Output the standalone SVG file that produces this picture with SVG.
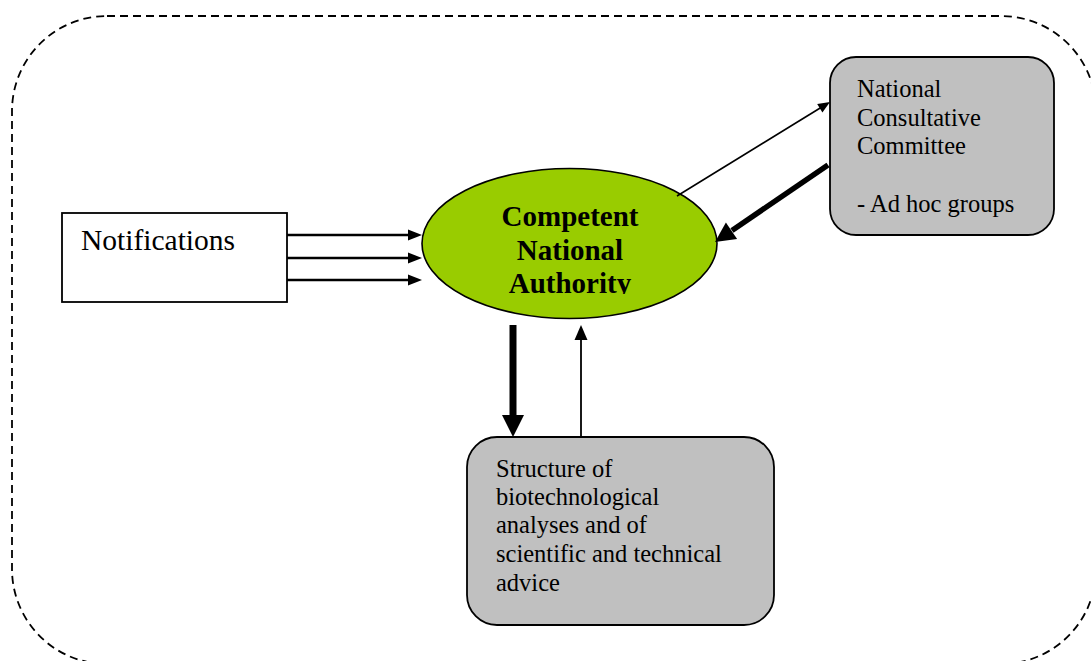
<svg xmlns="http://www.w3.org/2000/svg" width="1091" height="661" viewBox="0 0 1091 661">
<style>
.box{fill:#C0C0C0;stroke:#000;stroke-width:1.8}
.t{font-family:"Liberation Serif","Times New Roman",serif;font-size:24.5px;fill:#000}
.b{font-family:"Liberation Serif","Times New Roman",serif;font-size:29px;font-weight:bold;fill:#000;text-anchor:middle}
.ln{stroke:#000;fill:none}
.hd{fill:#000;stroke:none}
</style>
<defs>
<clipPath id="cl"><rect x="400" y="150" width="340" height="144"/></clipPath>
</defs>
<rect id="frame" x="12" y="16" width="1084" height="648" rx="95" ry="95" fill="none" stroke="#000" stroke-width="1.8" stroke-dasharray="8 5"/>
<g id="notifications">
<rect x="62" y="213" width="225" height="89" fill="#fff" stroke="#000" stroke-width="1.8"/>
<text class="t" x="81" y="250" style="font-size:29.5px">Notifications</text>
</g>
<g id="authority">
<ellipse cx="569.5" cy="243.5" rx="147.5" ry="75" fill="#99CC00" stroke="#000" stroke-width="1.6"/>
<g clip-path="url(#cl)">
<text class="b" x="570" y="226">Competent</text>
<text class="b" x="570" y="260">National</text>
<text class="b" x="570" y="293">Authority</text>
</g>
</g>
<g id="committee">
<rect class="box" x="830" y="57" width="224" height="178" rx="26" ry="26"/>
<text class="t" x="857" y="97">National</text>
<text class="t" x="857" y="126">Consultative</text>
<text class="t" x="857" y="154">Committee</text>
<text class="t" x="857" y="212">- Ad hoc groups</text>
</g>
<g id="structure">
<rect class="box" x="467" y="437" width="307" height="188" rx="30" ry="30"/>
<text class="t" x="496" y="477">Structure of</text>
<text class="t" x="496" y="505">biotechnological</text>
<text class="t" x="496" y="533">analyses and of</text>
<text class="t" x="496" y="562">scientific and technical</text>
<text class="t" x="496" y="591">advice</text>
</g>
<g id="connectors">
<line class="ln" x1="287" y1="235" x2="409" y2="235" stroke-width="2.6"/>
<polygon class="hd" points="408,229.5 422,235 408,240.5"/>
<line class="ln" x1="287" y1="258" x2="409" y2="258" stroke-width="2.6"/>
<polygon class="hd" points="408,252.5 422,258 408,263.5"/>
<line class="ln" x1="287" y1="280" x2="409" y2="280" stroke-width="2.6"/>
<polygon class="hd" points="408,274.5 422,280 408,285.5"/>
<line class="ln" x1="677" y1="196" x2="821" y2="107.5" stroke-width="1.6"/>
<polygon class="hd" points="830,102 822.4,112.6 817.2,104"/>
<line class="ln" x1="828" y1="165" x2="732" y2="230.5" stroke-width="5.5"/>
<polygon class="hd" points="715,242 737.1,239 725.9,222.4"/>
<line class="ln" x1="513" y1="325" x2="513" y2="416" stroke-width="7"/>
<polygon class="hd" points="502,415 524,415 513,437"/>
<line class="ln" x1="581" y1="437" x2="581" y2="338" stroke-width="1.8"/>
<polygon class="hd" points="574.5,340 587.5,340 581,325"/>
</g>
</svg>
